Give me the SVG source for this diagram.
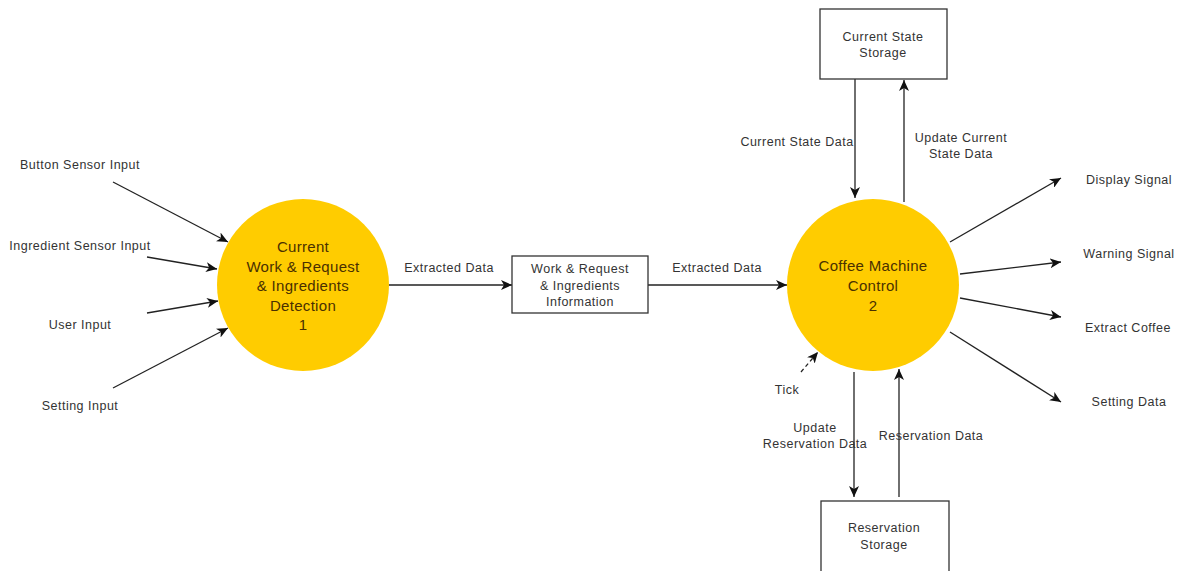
<svg xmlns="http://www.w3.org/2000/svg" width="1180" height="571" viewBox="0 0 1180 571">
  <style>
    .bg { fill: #ffffff; }
    .proc { fill: #ffcc00; stroke: none; }
    .store { fill: #ffffff; stroke: #333333; stroke-width: 1.3; }
    .flow { stroke: #222222; stroke-width: 1.3; fill: none; marker-end: url(#arrow); }
    .dash { stroke-dasharray: 4 3; }
    .lbl { font-family: "Liberation Sans", Arial, sans-serif; font-size: 12.5px; fill: #333333; letter-spacing: 0.5px; }
    .ptxt { font-family: "Liberation Sans", Arial, sans-serif; font-size: 15px; fill: #4a3000; letter-spacing: 0.3px; }
    .mid { text-anchor: middle; }
  </style>
  <defs>
    <marker id="arrow" markerUnits="userSpaceOnUse" markerWidth="12" markerHeight="10" refX="11" refY="5" orient="auto">
      <path d="M0,0 L11,5 L0,10 L3,5 Z" fill="#111111"/>
    </marker>
  </defs>

  <rect class="bg" x="0" y="0" width="1180" height="571"/>

  <!-- data flows -->
  <g id="connectors">
    <line class="flow" x1="113" y1="182" x2="228" y2="242"/>
    <line class="flow" x1="147" y1="257" x2="217" y2="269"/>
    <line class="flow" x1="147" y1="313" x2="218" y2="301"/>
    <line class="flow" x1="113" y1="388" x2="228" y2="328"/>
    <line class="flow" x1="389" y1="285" x2="512" y2="285"/>
    <line class="flow" x1="648" y1="285" x2="787" y2="285"/>
    <line class="flow" x1="855" y1="79" x2="855" y2="198"/>
    <line class="flow" x1="904" y1="202" x2="904" y2="80"/>
    <line class="flow" x1="854" y1="372" x2="854" y2="497"/>
    <line class="flow" x1="899" y1="497" x2="899" y2="369"/>
    <line class="flow dash" x1="801" y1="372" x2="818" y2="352"/>
    <line class="flow" x1="950" y1="242" x2="1061" y2="178"/>
    <line class="flow" x1="960" y1="274" x2="1061" y2="262"/>
    <line class="flow" x1="960" y1="298" x2="1061" y2="317"/>
    <line class="flow" x1="950" y1="332" x2="1061" y2="402"/>

    <text class="lbl mid" x="80" y="169">Button Sensor Input</text>
    <text class="lbl mid" x="80" y="250">Ingredient Sensor Input</text>
    <text class="lbl mid" x="80" y="329">User Input</text>
    <text class="lbl mid" x="80" y="410">Setting Input</text>
    <text class="lbl mid" x="449" y="272">Extracted Data</text>
    <text class="lbl mid" x="717" y="272">Extracted Data</text>
    <text class="lbl mid" x="797" y="146">Current State Data</text>
    <text class="lbl mid" x="961" y="142">Update Current</text>
    <text class="lbl mid" x="961" y="158">State Data</text>
    <text class="lbl mid" x="1129" y="184">Display Signal</text>
    <text class="lbl mid" x="1129" y="258">Warning Signal</text>
    <text class="lbl mid" x="1128" y="332">Extract Coffee</text>
    <text class="lbl mid" x="1129" y="406">Setting Data</text>
    <text class="lbl mid" x="787" y="394">Tick</text>
    <text class="lbl mid" x="815" y="432">Update</text>
    <text class="lbl mid" x="815" y="448">Reservation Data</text>
    <text class="lbl mid" x="931" y="440">Reservation Data</text>
  </g>

  <g id="process-1">
    <circle class="proc" cx="303" cy="285" r="86"/>
    <text class="ptxt mid" x="303" y="252">Current</text>
    <text class="ptxt mid" x="303" y="272">Work &amp; Request</text>
    <text class="ptxt mid" x="303" y="291">&amp; Ingredients</text>
    <text class="ptxt mid" x="303" y="311">Detection</text>
    <text class="ptxt mid" x="303" y="330">1</text>
  </g>

  <g id="work-request-store">
    <rect class="store" x="512" y="256" width="136" height="57"/>
    <text class="lbl mid" x="580" y="273">Work &amp; Request</text>
    <text class="lbl mid" x="580" y="290">&amp; Ingredients</text>
    <text class="lbl mid" x="580" y="306">Information</text>
  </g>

  <g id="process-2">
    <circle class="proc" cx="873" cy="285" r="86"/>
    <text class="ptxt mid" x="873" y="271">Coffee Machine</text>
    <text class="ptxt mid" x="873" y="291">Control</text>
    <text class="ptxt mid" x="873" y="311">2</text>
  </g>

  <g id="current-state-storage">
    <rect class="store" x="820" y="9" width="127" height="70"/>
    <text class="lbl mid" x="883" y="41">Current State</text>
    <text class="lbl mid" x="883" y="57">Storage</text>
  </g>

  <g id="reservation-storage">
    <rect class="store" x="821" y="501" width="128" height="72"/>
    <text class="lbl mid" x="884" y="532">Reservation</text>
    <text class="lbl mid" x="884" y="549">Storage</text>
  </g>
</svg>
